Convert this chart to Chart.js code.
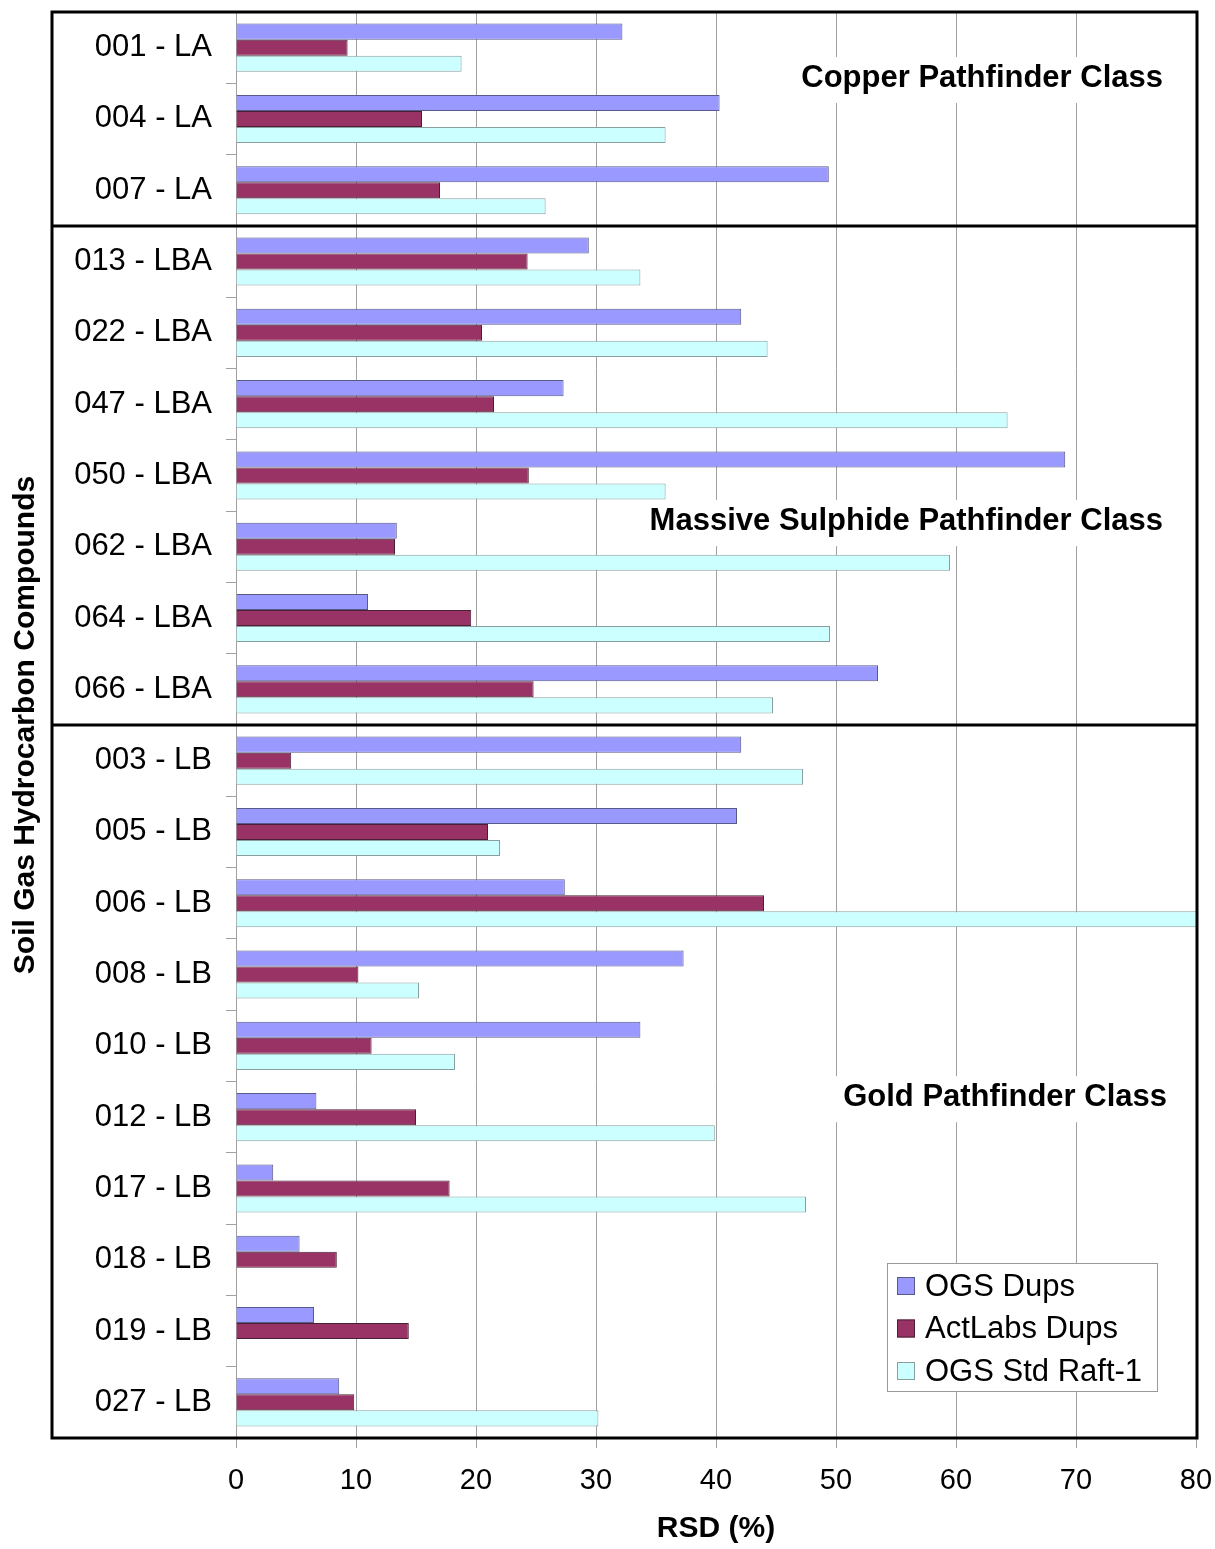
<!DOCTYPE html>
<html>
<head>
<meta charset="utf-8">
<script src="https://cdn.jsdelivr.net/npm/chart.js@4/dist/chart.umd.min.js"></script>
<style>
    html, body { margin: 0; padding: 0; background: #ffffff; }
    #wrap { width: 1215px; height: 1549px; }
</style>
</head>
<body>
<div id="wrap"><canvas id="rsdChart" width="1215" height="1549"></canvas></div>
<script>
// 화합물 목록 (y축)
const compounds = ['001 - LA', '004 - LA', '007 - LA',
    '013 - LBA', '022 - LBA', '047 - LBA', '050 - LBA', '062 - LBA', '064 - LBA', '066 - LBA',
    '003 - LB', '005 - LB', '006 - LB', '008 - LB', '010 - LB', '012 - LB', '017 - LB', '018 - LB', '019 - LB', '027 - LB'];

// 시리즈 값 (RSD %)
const ogsDups     = [32.2, 40.3, 49.4, 29.4, 42.1, 27.3, 69.1, 13.4, 11.0, 53.5, 42.1, 41.75, 27.4, 37.3, 33.7, 6.7, 3.1, 5.3, 6.5, 8.6];
const actLabsDups = [9.3, 15.5, 17.0, 24.3, 20.5, 21.5, 24.4, 13.25, 19.6, 24.8, 4.6, 21.0, 44.0, 10.2, 11.3, 15.0, 17.8, 8.4, 14.4, 9.85];
const ogsStdRaft  = [18.8, 35.8, 25.8, 33.7, 44.3, 64.3, 35.8, 59.5, 49.5, 44.75, 47.25, 22.0, 81, 15.25, 18.25, 39.9, 47.5, null, null, 30.2];

const seriesNames = ['OGS Dups', 'ActLabs Dups', 'OGS Std Raft-1'];
const xTicks = [0, 10, 20, 30, 40, 50, 60, 70, 80];

// 분류 구간 (마지막 화합물 인덱스) 및 라벨
const classNames = ['Copper Pathfinder Class', 'Massive Sulphide Pathfinder Class', 'Gold Pathfinder Class'];
const classEnds = [2, 9, 19];

const FONT = '"Liberation Sans", Arial, sans-serif';

// 구분선, 분류 라벨, 범례 그리기
const decorPlugin = {
    id: 'decor',
    beforeDraw(chart) {
        const ctx = chart.ctx;
        ctx.save();
        ctx.fillStyle = '#ffffff';
        ctx.fillRect(0, 0, chart.width, chart.height);
        ctx.restore();
    },
    afterDatasetsDraw(chart) {
        const ctx = chart.ctx;
        const area = chart.chartArea;
        const step = (area.bottom - area.top) / compounds.length;
        const labelRows = [0.926, 7.14, 15.22];
        const rightEdge = [area.right - 33, area.right - 33, area.right - 29];

        ctx.save();
        ctx.font = 'bold 31px ' + FONT;
        ctx.textBaseline = 'middle';
        ctx.textAlign = 'right';
        classNames.forEach((name, i) => {
            const y = area.top + labelRows[i] * step;
            const w = ctx.measureText(name).width;
            ctx.fillStyle = '#ffffff';
            ctx.fillRect(rightEdge[i] - w - 8, y - 21, w + 14, 46);
            ctx.fillStyle = '#000000';
            ctx.fillText(name, rightEdge[i], y);
        });

        // 범례
        const lx = 887, ly = 1263, lw = 270, lh = 128;
        ctx.fillStyle = '#ffffff';
        ctx.fillRect(lx, ly, lw, lh);
        ctx.strokeStyle = '#999999';
        ctx.lineWidth = 1;
        ctx.strokeRect(lx + 0.5, ly + 0.5, lw, lh);
        ctx.font = '31px ' + FONT;
        ctx.textAlign = 'left';
        chart.data.datasets.forEach((ds, i) => {
            const cy = ly + 23 + i * 42.5;
            ctx.fillStyle = ds.backgroundColor;
            ctx.fillRect(lx + 10, cy - 9, 18, 18);
            ctx.strokeStyle = ds.borderColor;
            ctx.strokeRect(lx + 10.5, cy - 8.5, 17, 17);
            ctx.fillStyle = '#000000';
            ctx.fillText(ds.label, lx + 38, cy + 1);
        });
        ctx.restore();
    },
    afterDraw(chart) {
        const ctx = chart.ctx;
        const area = chart.chartArea;
        const yScale = chart.scales.y;
        ctx.save();
        ctx.strokeStyle = '#000000';
        ctx.lineWidth = 3;
        ctx.strokeRect(52, area.top, area.right - 52 + 1, area.bottom - area.top);
        classEnds.slice(0, -1).forEach(idx => {
            const y = (yScale.getPixelForValue(idx) + yScale.getPixelForValue(idx + 1)) / 2;
            ctx.beginPath();
            ctx.moveTo(52, y);
            ctx.lineTo(area.right + 1, y);
            ctx.stroke();
        });
        ctx.restore();
    }
};

const chart = new Chart(document.getElementById('rsdChart'), {
    type: 'bar',
    data: {
        labels: compounds,
        datasets: [
            { label: seriesNames[0], data: ogsDups, backgroundColor: '#9999ff', borderColor: '#5a5a8a' },
            { label: seriesNames[1], data: actLabsDups, backgroundColor: '#993366', borderColor: '#4a2036' },
            { label: seriesNames[2], data: ogsStdRaft, backgroundColor: '#ccffff', borderColor: '#8a9e9e' }
        ]
    },
    options: {
        indexAxis: 'y',
        responsive: false,
        animation: false,
        layout: { padding: { top: 12, right: 19, left: 0, bottom: 0 } },
        datasets: {
            bar: { borderWidth: 1, barPercentage: 1.0, categoryPercentage: 0.675 }
        },
        plugins: {
            legend: { display: false },
            tooltip: { enabled: false }
        },
        scales: {
            x: {
                min: 0,
                max: 80,
                afterFit(scale) {
                    scale.height = 111;
                    scale.paddingLeft = 0;
                    scale.paddingRight = 0;
                },
                afterBuildTicks(scale) { scale.ticks = xTicks.map(v => ({ value: v })); },
                grid: { color: '#a0a0a0', lineWidth: 1, tickLength: 10, drawOnChartArea: true },
                border: { display: false },
                ticks: { color: '#000000', font: { family: FONT, size: 29 }, padding: 16, maxRotation: 0 },
                title: { display: true, text: 'RSD (%)', color: '#000000', font: { family: FONT, size: 30, weight: 'bold' }, padding: { top: 0, bottom: 2 } }
            },
            y: {
                afterFit(scale) {
                    scale.width = 236;
                    scale.paddingTop = 0;
                    scale.paddingBottom = 0;
                },
                grid: { color: '#a0a0a0', drawOnChartArea: false, tickLength: 10, offset: true },
                border: { display: true, color: '#a0a0a0', width: 1 },
                ticks: { color: '#000000', font: { family: FONT, size: 31 }, padding: 14, autoSkip: false },
                title: { display: true, text: 'Soil Gas Hydrocarbon Compounds', color: '#000000', font: { family: FONT, size: 30, weight: 'bold' }, padding: { top: 8, bottom: 0 } }
            }
        }
    },
    plugins: [decorPlugin]
});
</script>
</body>
</html>
